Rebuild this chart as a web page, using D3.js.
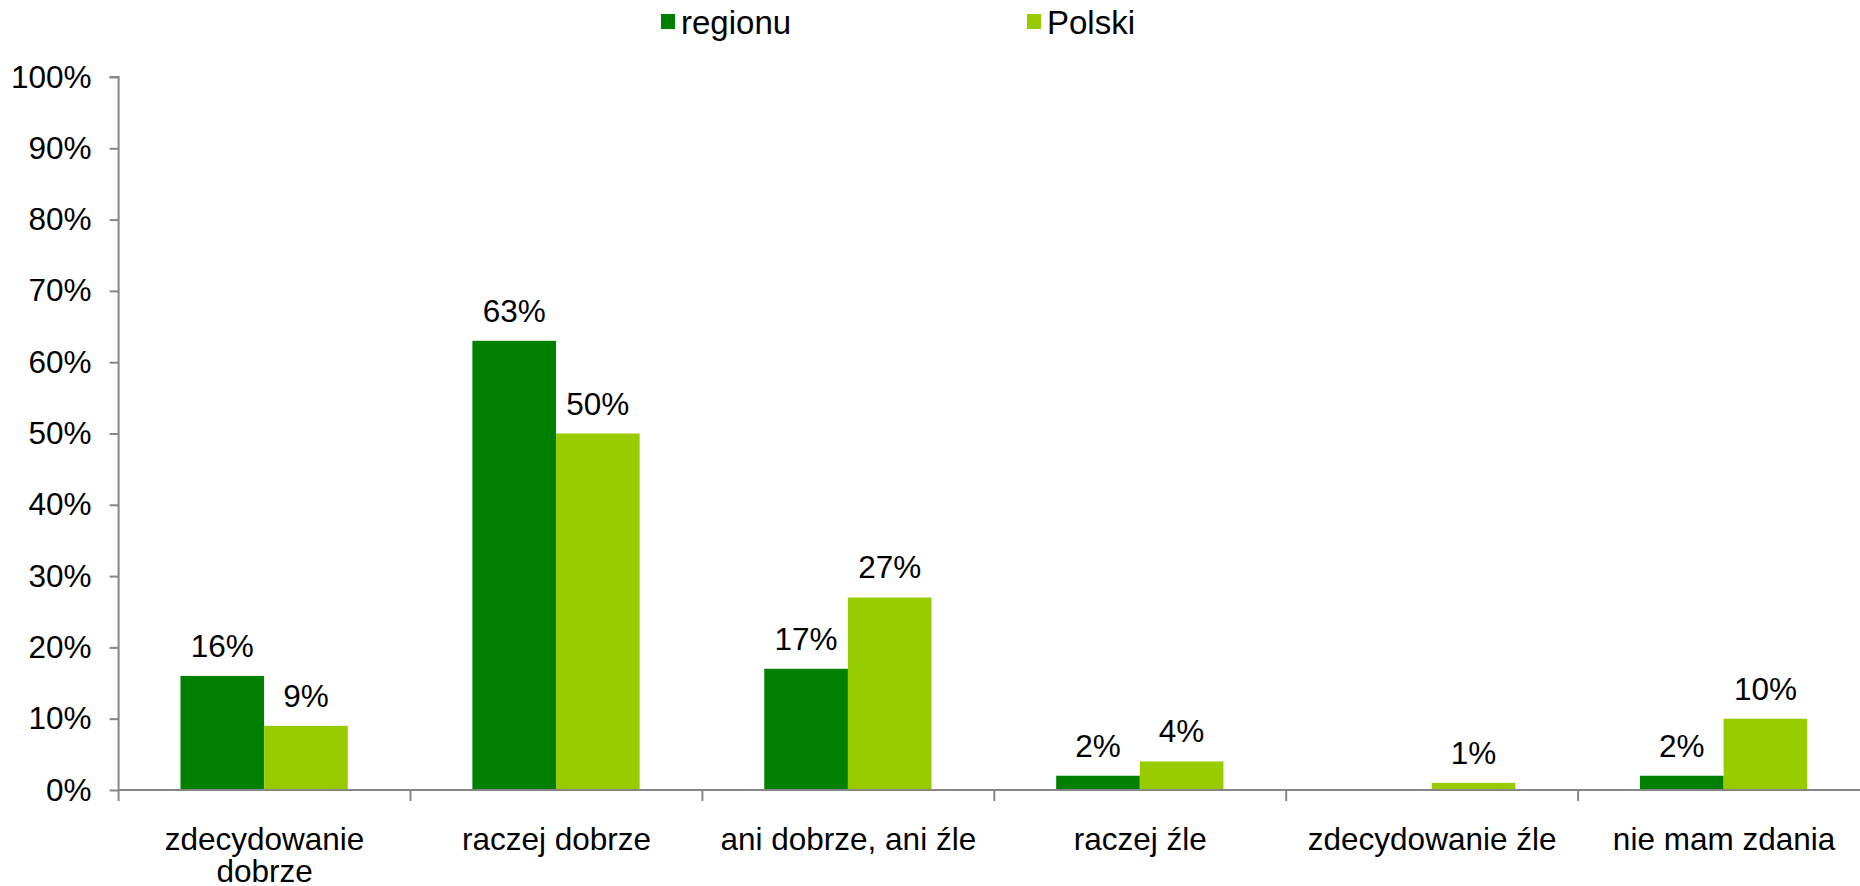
<!DOCTYPE html>
<html>
<head>
<meta charset="utf-8">
<script src="https://cdn.jsdelivr.net/npm/d3@7"></script>
<style>
  body { margin: 0; background: #fff; }
  svg { display: block; font-family: "Liberation Sans", Arial, sans-serif; }
</style>
</head>
<body>
<script>
const categories = ["zdecydowanie dobrze", "raczej dobrze", "ani dobrze, ani źle", "raczej źle", "zdecydowanie źle", "nie mam zdania"];
const series = ["regionu", "Polski"];
const regionu = [16, 63, 17, 2, null, 2];
const polski = [9, 50, 27, 4, 1, 10];
const yTicks = [0, 10, 20, 30, 40, 50, 60, 70, 80, 90, 100];
const colors = ["#008000", "#99cc00"];

const width = 1860, height = 886;
const padL = 118.6, padR = 1870, padT = 77, padB = 790;
const fs = 31.5;

const svg = d3.select("body").append("svg")
  .attr("width", width)
  .attr("height", height);

const x0 = d3.scaleBand().domain(categories).range([padL, padR]).padding(0);
const bw = x0.bandwidth();
const x1 = d3.scaleBand().domain(series).range([bw * 0.212, bw * 0.785]).padding(0);
const y = d3.scaleLinear().domain([0, 100]).range([padB, padT]);

const rows = categories.map((c, i) => ({ c, vals: [regionu[i], polski[i]] }));

// bars
const groups = svg.selectAll("g.cat")
  .data(rows)
  .enter().append("g")
  .attr("class", "cat")
  .attr("transform", d => `translate(${x0(d.c)},0)`);

groups.selectAll("rect")
  .data(d => d.vals.map((v, k) => ({ s: series[k], v, k })).filter(e => e.v != null))
  .enter().append("rect")
  .attr("x", e => x1(e.s))
  .attr("width", x1.bandwidth())
  .attr("y", e => y(e.v))
  .attr("height", e => y(0) - y(e.v))
  .attr("fill", e => colors[e.k]);

groups.selectAll("text.val")
  .data(d => d.vals.map((v, k) => ({ s: series[k], v, k })).filter(e => e.v != null))
  .enter().append("text")
  .attr("class", "val")
  .attr("x", e => x1(e.s) + x1.bandwidth() / 2)
  .attr("y", e => y(e.v) - 19)
  .attr("text-anchor", "middle")
  .attr("font-size", fs)
  .attr("fill", "#000")
  .text(e => e.v + "%");

// y axis
const yAxis = d3.axisLeft(y).tickValues(yTicks).tickFormat(d => d + "%").tickSize(9).tickPadding(18);
const gy = svg.append("g").attr("transform", `translate(${padL},0)`).call(yAxis);
gy.select(".domain").attr("stroke", "#868686").attr("stroke-width", 2).attr("d", `M-9,${padT}H0V${padB}`);
gy.selectAll(".tick line").attr("stroke", "#868686").attr("stroke-width", 2);
gy.selectAll(".tick text").attr("font-size", fs).attr("fill", "#000").attr("font-family", "Liberation Sans, Arial, sans-serif");

// x axis
const gx = svg.append("g").attr("transform", `translate(0,${padB})`);
gx.append("line")
  .attr("x1", padL).attr("x2", width)
  .attr("stroke", "#868686").attr("stroke-width", 2);
gx.selectAll("line.tk")
  .data(categories.map(c => x0(c)))
  .enter().append("line")
  .attr("class", "tk")
  .attr("x1", d => d).attr("x2", d => d)
  .attr("y1", 0).attr("y2", 11)
  .attr("stroke", "#868686").attr("stroke-width", 2);

const labelLines = c => c === "zdecydowanie dobrze" ? ["zdecydowanie", "dobrze"] : [c];
gx.selectAll("text.cl")
  .data(categories)
  .enter().append("text")
  .attr("class", "cl")
  .attr("x", c => x0(c) + bw / 2)
  .attr("y", 60)
  .attr("text-anchor", "middle")
  .attr("font-size", fs)
  .attr("fill", "#000")
  .selectAll("tspan")
  .data(c => labelLines(c))
  .enter().append("tspan")
  .attr("x", function () { return d3.select(this.parentNode).attr("x"); })
  .attr("dy", (d, i) => i === 0 ? 0 : 32)
  .text(d => d);

// legend
const legendX = [661, 1027];
const lg = svg.append("g").selectAll("g")
  .data(series)
  .enter().append("g")
  .attr("transform", (d, i) => `translate(${legendX[i]},14)`);
lg.append("rect").attr("width", 14).attr("height", 15).attr("fill", (d, i) => colors[i]);
lg.append("text")
  .attr("x", 20).attr("y", 20)
  .attr("font-size", 33)
  .attr("fill", "#000")
  .text(d => d);
</script>
</body>
</html>
